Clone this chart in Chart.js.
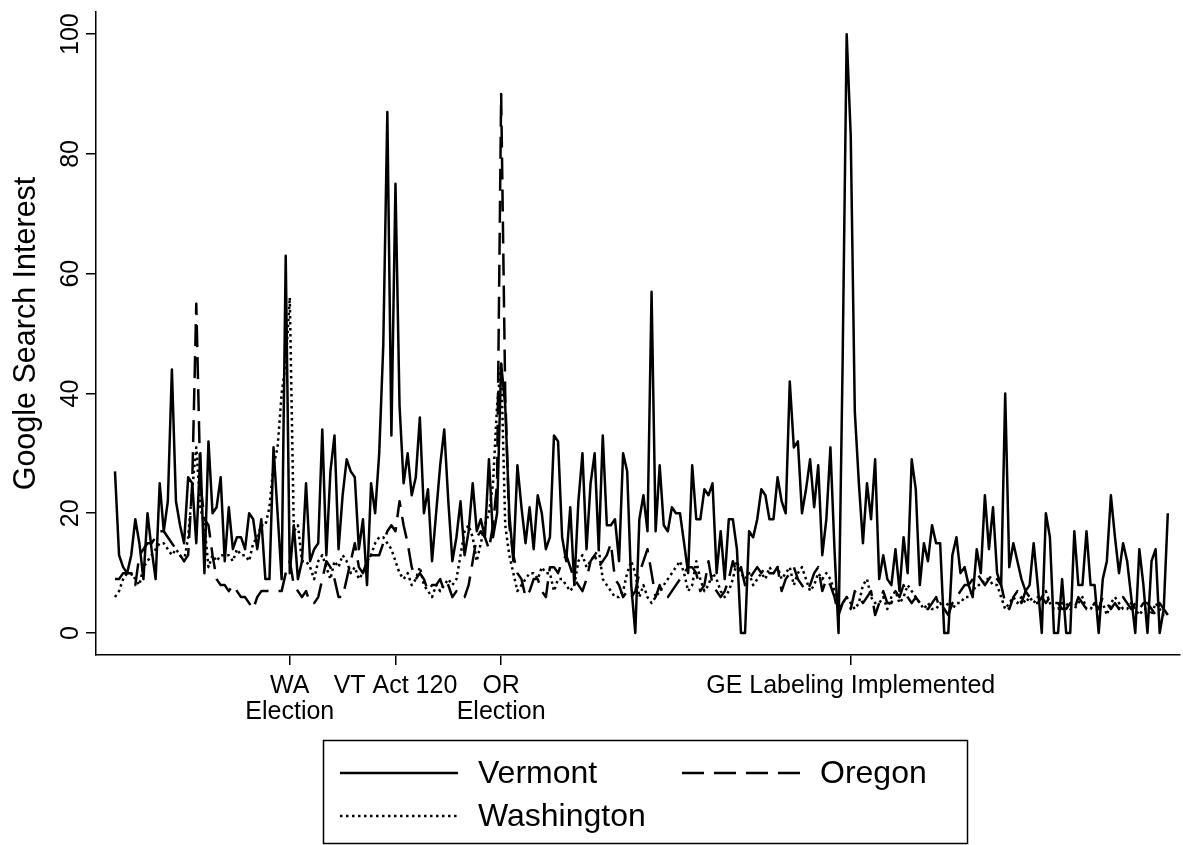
<!DOCTYPE html>
<html>
<head>
<meta charset="utf-8">
<title>Google Search Interest</title>
<script src="https://cdn.jsdelivr.net/npm/chart.js@4.4.1/dist/chart.umd.min.js"></script>
<style>
  html, body { margin: 0; padding: 0; background: #fff; }
  #chart { display: block; }
</style>
</head>
<body>
<canvas id="chart" width="1183" height="845"></canvas>
<script>
// weekly Google Trends values, ~5 years
const vermont = [
  27, 13, 11, 10, 13, 19, 15, 9, 20, 14,
  9, 25, 17, 22, 44, 22, 18, 15, 26, 25,
  15, 30, 10, 32, 20, 21, 26, 12, 21, 14,
  16, 16, 14, 20, 19, 14, 19, 9, 9, 31,
  20, 9, 63, 10, 18, 9, 12, 25, 12, 14,
  15, 34, 13, 27, 33, 14, 23, 29, 27, 26,
  14, 19, 8, 25, 20, 30, 48, 87, 33, 75,
  38, 25, 30, 23, 26, 36, 20, 24, 12, 20,
  28, 34, 22, 12, 16, 22, 13, 17, 25, 17,
  19, 16, 29, 16, 20, 45, 38, 20, 12, 28,
  21, 15, 21, 14, 23, 20, 14, 16, 33, 32,
  16, 12, 21, 8, 22, 30, 14, 25, 30, 14,
  33, 18, 18, 19, 12, 30, 27, 8, 0, 19,
  23, 17, 57, 17, 28, 18, 17, 21, 20, 20,
  15, 10, 28, 19, 19, 24, 23, 25, 10, 17,
  9, 19, 19, 14, 0, 0, 17, 16, 19, 24,
  23, 19, 19, 26, 22, 20, 42, 31, 32, 20,
  24, 29, 21, 28, 13, 19, 31, 14, 0, 45,
  100, 83, 37, 25, 15, 25, 19, 29, 9, 13,
  9, 8, 14, 7, 16, 10, 29, 24, 8, 15,
  12, 18, 15, 15, 0, 0, 13, 16, 10, 11,
  8, 6, 14, 10, 23, 14, 21, 10, 8, 40,
  11, 15, 12, 9, 7, 8, 15, 8, 0, 20,
  16, 0, 0, 9, 0, 0, 17, 8, 8, 17,
  8, 8, 0, 9, 12, 23, 16, 10, 15, 12,
  6, 0, 14, 8, 0, 12, 14, 0, 4, 20
];
const oregon = [
  9, 9, 10, 10, 10, 8, 13, 14, 15, 15,
  16, 17, 17, 16, 15, 14, 13, 12, 13, 25,
  55, 25, 19, 18, 13, 9, 8, 8, 7, 8,
  7, 6, 6, 5, 4, 6, 7, 7, 7, 7,
  7, 7, 10, 12, 8, 7, 6, 7, 5, 5,
  6, 9, 12, 11, 9, 6, 6, 9, 12, 15,
  11, 10, 12, 13, 13, 13, 15, 17, 18, 17,
  22, 18, 15, 11, 9, 10, 9, 7, 8, 8,
  9, 7, 8, 6, 7, 6, 6, 8, 12, 16,
  17, 16, 14, 18, 25, 90, 40, 18, 13, 10,
  9, 6, 7, 9, 9, 7, 6, 11, 11, 10,
  12, 13, 11, 9, 8, 7, 9, 12, 13, 11,
  12, 13, 15, 9, 8, 6, 7, 6, 7, 10,
  12, 14, 10, 6, 8, 6, 6, 7, 8, 9,
  10, 11, 11, 10, 7, 8, 12, 8, 7, 6,
  7, 9, 12, 10, 11, 8, 9, 10, 11, 10,
  11, 10, 10, 11, 7, 9, 10, 11, 9, 8,
  7, 8, 10, 11, 7, 9, 8, 6, 3, 5,
  6, 4, 7, 6, 5, 6, 7, 3, 5, 7,
  5, 5, 7, 6, 8, 6, 5, 6, 5, 4,
  4, 5, 6, 4, 4, 3, 5, 6, 7, 8,
  8, 9, 10, 9, 8, 9, 10, 9, 8, 5,
  4, 6, 7, 5, 7, 6, 5, 5, 6, 5,
  6, 5, 5, 4, 4, 5, 4, 6, 5, 4,
  4, 5, 4, 6, 5, 4, 5, 4, 6, 5,
  4, 5, 4, 5, 5, 4, 3, 5, 4, 3
];
const washington = [
  6, 7, 9, 10, 10, 9, 8, 11, 12, 13,
  14, 15, 15, 14, 13, 14, 13, 12, 16, 24,
  31, 21, 18, 11, 13, 12, 13, 13, 13, 12,
  14, 13, 13, 12, 15, 16, 18, 18, 21, 28,
  31, 40, 45, 56, 17, 18, 12, 12, 11, 9,
  12, 13, 11, 9, 12, 11, 13, 12, 10, 11,
  9, 10, 12, 13, 15, 16, 16, 15, 14, 12,
  10, 9, 10, 8, 9, 11, 8, 7, 6, 8,
  7, 8, 9, 8, 9, 13, 17, 18, 16, 12,
  15, 18, 20, 25, 38, 45, 18, 13, 10, 7,
  8, 9, 10, 10, 9, 11, 10, 10, 7, 9,
  9, 8, 7, 8, 12, 13, 11, 12, 13, 14,
  9, 8, 7, 6, 6, 7, 10, 12, 10, 6,
  8, 6, 5, 6, 7, 8, 9, 10, 11, 12,
  10, 7, 8, 12, 9, 7, 8, 10, 9, 7,
  6, 7, 9, 12, 10, 9, 10, 8, 9, 10,
  9, 11, 10, 11, 9, 10, 11, 8, 10, 11,
  9, 7, 8, 10, 9, 10, 9, 7, 4, 5,
  6, 5, 4, 5, 8, 9, 6, 5, 5, 6,
  4, 6, 7, 5, 6, 8, 7, 6, 5, 4,
  5, 4, 4, 5, 4, 5, 4, 5, 5, 6,
  6, 7, 8, 8, 9, 9, 8, 8, 6, 4,
  5, 6, 5, 6, 5, 6, 5, 6, 6, 7,
  5, 4, 4, 5, 5, 4, 4, 5, 6, 4,
  4, 5, 5, 5, 3, 5, 6, 5, 4, 4,
  5, 4, 3, 4, 4, 3, 5, 4, 3, 3
];
const weeks = vermont.map((_, i) => i);

// event markers on the x axis (week index)
const eventWeeks = [43, 69, 95, 181];
const eventLabels = [["WA", "Election"], "VT Act 120", ["OR", "Election"], "GE Labeling Implemented"];
const yTicks = [0, 20, 40, 60, 80, 100];

const FONT = '"Liberation Sans", Arial, Helvetica, sans-serif';

const yTickText = {
  id: "yTickText",
  afterDraw(chart) {
    const s = chart.scales.y, ctx = chart.ctx;
    ctx.save();
    ctx.font = `25px ${FONT}`;
    ctx.fillStyle = "#000";
    ctx.textAlign = "center";
    ctx.textBaseline = "middle";
    yTicks.forEach(v => {
      ctx.save();
      ctx.translate(s.right - 25, s.getPixelForValue(v));
      ctx.rotate(-Math.PI / 2);
      ctx.fillText(String(v), 0, 0);
      ctx.restore();
    });
    ctx.restore();
  }
};

const boxLegend = {
  id: "boxLegend",
  afterDraw(chart) {
    const ctx = chart.ctx;
    ctx.save();
    ctx.strokeStyle = "#000";
    ctx.lineWidth = 1.5;
    ctx.strokeRect(323.5, 740.5, 644, 103);
    ctx.font = `32px ${FONT}`;
    ctx.fillStyle = "#000";
    ctx.textBaseline = "middle";
    const slots = [[340, 773], [682, 773], [340, 816]];
    chart.data.datasets.forEach((d, i) => {
      const [x, y] = slots[i];
      ctx.setLineDash(d.borderDash || []);
      ctx.lineWidth = d.borderWidth;
      ctx.beginPath();
      ctx.moveTo(x, y);
      ctx.lineTo(x + 118, y);
      ctx.stroke();
      ctx.setLineDash([]);
      ctx.fillText(d.label, x + 138, y + 1);
    });
    ctx.restore();
  }
};

const line = (label, data, dash, width) => ({
  label, data,
  borderColor: "#000",
  borderWidth: width,
  borderDash: dash,
  borderJoinStyle: "round",
  pointRadius: 0,
  tension: 0,
  fill: false
});

new Chart(document.getElementById("chart"), {
  type: "line",
  data: {
    labels: weeks,
    datasets: [
      line("Vermont", vermont, [], 2.5),
      line("Oregon", oregon, [22, 10], 2.5),
      line("Washington", washington, [2.5, 3.5], 2.5)
    ]
  },
  options: {
    responsive: false,
    animation: false,
    devicePixelRatio: 1,
    layout: { padding: { top: 12, right: 3, left: 0, bottom: 0 } },
    plugins: { legend: { display: false }, tooltip: { enabled: false } },
    scales: {
      x: {
        type: "linear",
        min: -4.67,
        max: 262,
        afterBuildTicks: s => { s.ticks = eventWeeks.map(v => ({ value: v })); },
        afterFit: s => { s.height = 190; },
        grid: { drawOnChartArea: false, drawTicks: true, tickLength: 10, color: "#000", lineWidth: 1.5 },
        border: { display: true, color: "#000", width: 1.5 },
        ticks: {
          autoSkip: false, maxRotation: 0, minRotation: 0, padding: 8,
          color: "#000", font: { family: FONT, size: 25, lineHeight: 1.05 },
          callback: (v, i) => eventLabels[i]
        }
      },
      y: {
        min: -3.67,
        max: 103.7,
        afterBuildTicks: s => { s.ticks = yTicks.map(v => ({ value: v })); },
        afterFit: s => { s.width = 96; },
        grid: { drawOnChartArea: false, drawTicks: true, tickLength: 10, color: "#000", lineWidth: 1.5 },
        border: { display: true, color: "#000", width: 1.5 },
        ticks: { display: false },
        title: {
          display: true, text: "Google Search Interest", color: "#000",
          font: { family: FONT, size: 30.5, lineHeight: 1.2 },
          padding: { top: 8, bottom: 0 }
        }
      }
    }
  },
  plugins: [yTickText, boxLegend]
});
</script>
</body>
</html>
